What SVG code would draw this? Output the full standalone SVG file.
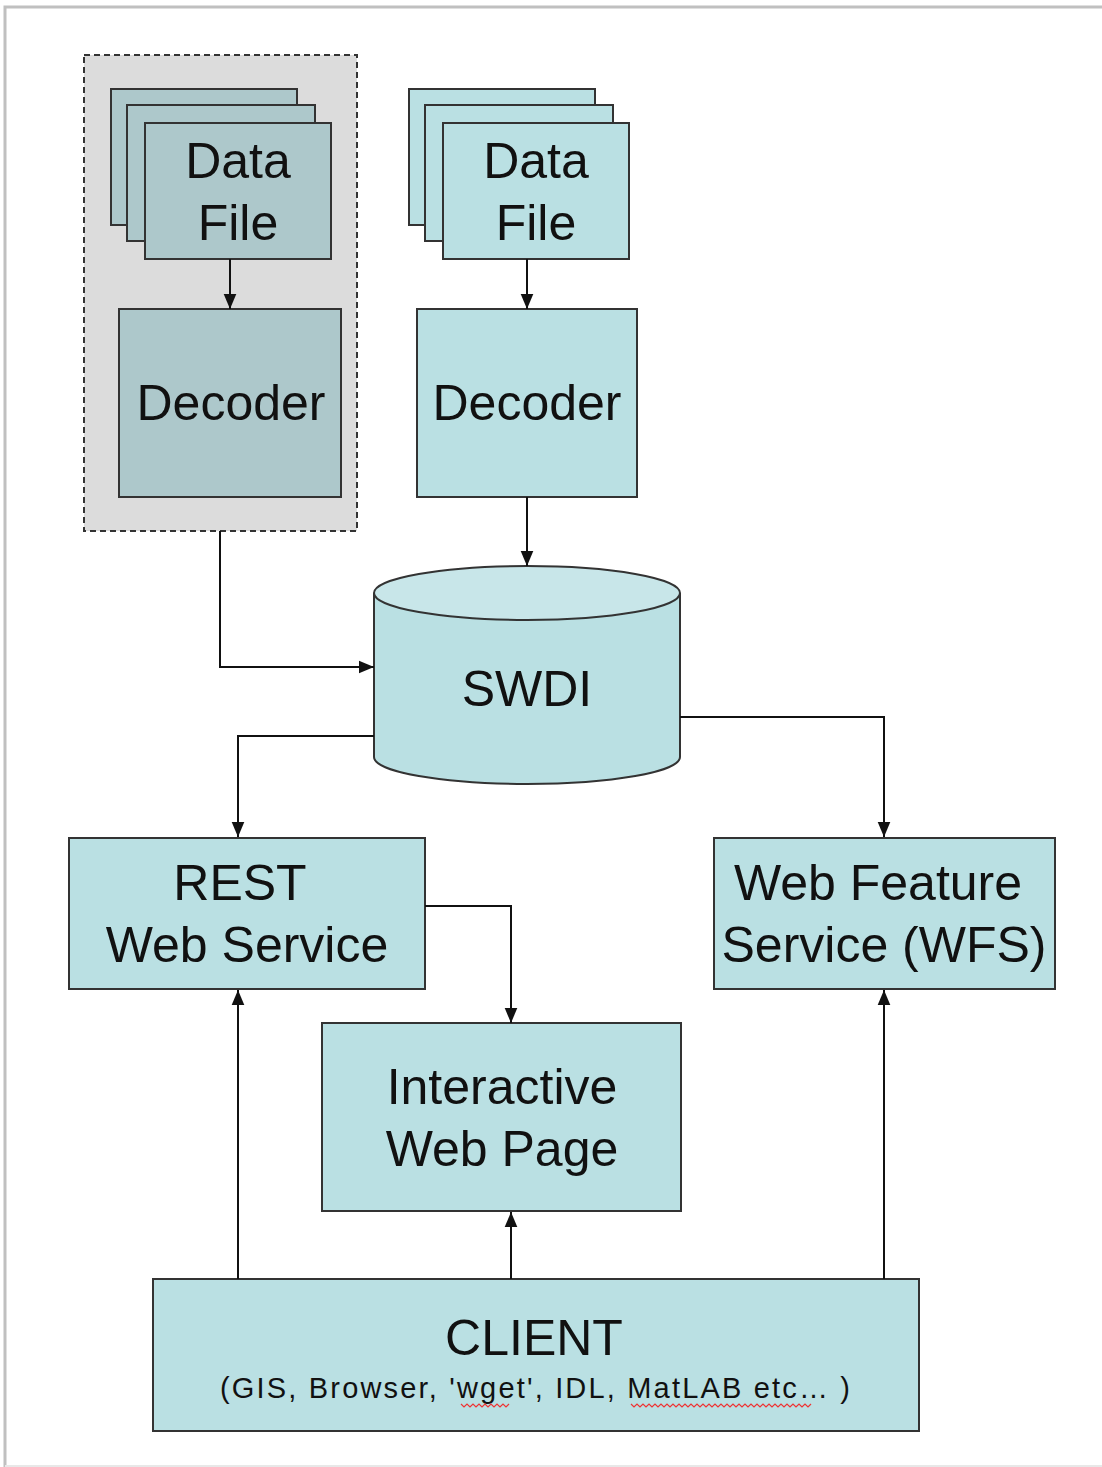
<svg xmlns="http://www.w3.org/2000/svg" width="1102" height="1467" viewBox="0 0 1102 1467">
<style>
.bx{fill:#bae0e3;stroke:#333;stroke-width:2}
.gx{fill:#adc8cb;stroke:#333;stroke-width:2}
.t{font-family:"Liberation Sans",Arial,sans-serif;font-size:50px;fill:#111;text-anchor:middle}
.s{font-family:"Liberation Sans",Arial,sans-serif;font-size:29px;fill:#111}
.c{fill:none;stroke:#111;stroke-width:2;marker-end:url(#ah)}
.sq{fill:none;stroke:#e33;stroke-width:1.2}
</style>
<defs>
<marker id="ah" viewBox="0 0 10 10" refX="10" refY="5" markerWidth="15" markerHeight="15" markerUnits="userSpaceOnUse" orient="auto">
<path d="M0,0.8 L10,5 L0,9.2 z" fill="#111"/>
</marker>
</defs>
<rect x="0" y="0" width="1102" height="1467" fill="#fff"/>
<path d="M5,1467 L5,7 L1102,7" fill="none" stroke="#c0c0c0" stroke-width="3"/>
<line x1="5" y1="1466" x2="1102" y2="1466" stroke="#e8e8e8" stroke-width="2"/>

<g id="group-left">
<rect x="84" y="55" width="273" height="476" fill="#dcdcdc" stroke="#333" stroke-width="2" stroke-dasharray="6,4"/>
</g>
<g id="datafile-left">
<rect class="gx" x="111" y="89" width="186" height="136"/>
<rect class="gx" x="127" y="105" width="188" height="136"/>
<rect class="gx" x="145" y="123" width="186" height="136"/>
<text class="t" x="238" y="178">Data</text>
<text class="t" x="238" y="240">File</text>
</g>
<g id="decoder-left">
<rect class="gx" x="119" y="309" width="222" height="188"/>
<text class="t" x="231" y="420">Decoder</text>
</g>
<g id="datafile-right">
<rect class="bx" x="409" y="89" width="186" height="136"/>
<rect class="bx" x="425" y="105" width="188" height="136"/>
<rect class="bx" x="443" y="123" width="186" height="136"/>
<text class="t" x="536" y="178">Data</text>
<text class="t" x="536" y="240">File</text>
</g>
<g id="decoder-right">
<rect class="bx" x="417" y="309" width="220" height="188"/>
<text class="t" x="527" y="420">Decoder</text>
</g>
<g id="swdi">
<path d="M374,593 L374,757 A153,27 0 0 0 680,757 L680,593" fill="#bae0e3" stroke="#333" stroke-width="2"/>
<ellipse cx="527" cy="593" rx="153" ry="27" fill="#c8e6e9" stroke="#333" stroke-width="2"/>
<text class="t" x="527" y="706">SWDI</text>
</g>
<g id="rest">
<rect class="bx" x="69" y="838" width="356" height="151"/>
<text class="t" x="240" y="900">REST</text>
<text class="t" x="247" y="962">Web Service</text>
</g>
<g id="wfs">
<rect class="bx" x="714" y="838" width="341" height="151"/>
<text class="t" x="878" y="900">Web Feature</text>
<text class="t" x="884" y="962">Service (WFS)</text>
</g>
<g id="webpage">
<rect class="bx" x="322" y="1023" width="359" height="188"/>
<text class="t" x="502" y="1104">Interactive</text>
<text class="t" x="502" y="1166">Web Page</text>
</g>
<g id="client">
<rect class="bx" x="153" y="1279" width="766" height="152"/>
<text class="t" x="534" y="1355">CLIENT</text>
<text class="s" x="220" y="1398" textLength="630" lengthAdjust="spacing">(GIS, Browser, 'wget', IDL, MatLAB etc… )</text>
<path class="sq" d="M461,1404 l3,3 l3,-3 l3,3 l3,-3 l3,3 l3,-3 l3,3 l3,-3 l3,3 l3,-3 l3,3 l3,-3 l3,3 l3,-3 l3,3 l3,-3"/>
<path class="sq" d="M631,1404 l3,3 l3,-3 l3,3 l3,-3 l3,3 l3,-3 l3,3 l3,-3 l3,3 l3,-3 l3,3 l3,-3 l3,3 l3,-3 l3,3 l3,-3 l3,3 l3,-3 l3,3 l3,-3 l3,3 l3,-3 l3,3 l3,-3 l3,3 l3,-3 l3,3 l3,-3 l3,3 l3,-3 l3,3 l3,-3 l3,3 l3,-3 l3,3 l3,-3 l3,3 l3,-3 l3,3 l3,-3 l3,3 l3,-3 l3,3 l3,-3 l3,3 l3,-3 l3,3 l3,-3 l3,3 l3,-3 l3,3 l3,-3 l3,3 l3,-3 l3,3 l3,-3 l3,3 l3,-3 l3,3 l3,-3"/>
</g>
<g id="connectors">
<path class="c" d="M230,259 L230,309"/>
<path class="c" d="M527,259 L527,309"/>
<path class="c" d="M527,497 L527,566"/>
<path class="c" d="M220,531 L220,667 L374,667"/>
<path class="c" d="M374,736 L238,736 L238,837"/>
<path class="c" d="M680,717 L884,717 L884,837"/>
<path class="c" d="M425,906 L511,906 L511,1023"/>
<path class="c" d="M238,1279 L238,990"/>
<path class="c" d="M511,1279 L511,1212"/>
<path class="c" d="M884,1279 L884,990"/>
</g>
</svg>
